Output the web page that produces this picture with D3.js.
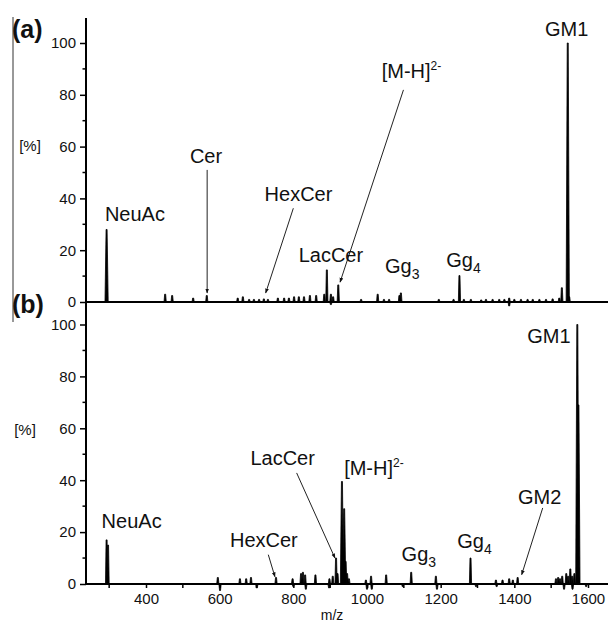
<!DOCTYPE html>
<html>
<head>
<meta charset="utf-8">
<script src="https://cdn.jsdelivr.net/npm/d3@7"></script>
<style>
  body { margin: 0; background: #fff; }
  text { font-family: "Liberation Sans", Arial, sans-serif; fill: #111; }
</style>
</head>
<body>
<div id="chart"></div>
<script>
// panel (a) peaks: m/z and relative intensity [%]
var mzA = [293, 452, 471, 528, 565, 649, 663, 680, 693, 707, 720, 731, 758, 775, 788, 802, 815, 829, 845, 862,
    884, 891, 902, 902, 908, 922, 984, 1029, 1046, 1060, 1088, 1092, 1195, 1235, 1251, 1263, 1282, 1310, 1323,
    1341, 1359, 1373, 1386, 1386, 1400, 1418, 1436, 1450, 1468, 1486, 1504, 1522, 1529, 1545, 1549];
var intA = [28, 3, 2.5, 1.5, 2.5, 1.5, 2, 1, 1, 1, 1.2, 1, 1.5, 1.5, 1.5, 2, 2, 2, 2.5, 2.5,
    3, 12.4, 3, -1, 2, 6.6, 1, 3, 1, 1, 2.5, 3.5, 1, 1, 10.2, 1, 1, 0.8, 1,
    1, 1, 1, 1.5, -1.5, 1, 1, 1, 1, 1, 1, 1.2, 1.5, 5.5, 100, 2];

// panel (b) peaks
var mzB = [293, 297, 595, 601, 655, 672, 685, 701, 753, 798, 800, 821, 826, 832, 834, 860, 897, 898, 907,
    916, 920, 932, 938, 942, 946, 951, 997, 1000, 1011, 1013, 1052, 1097, 1120, 1187, 1190, 1281, 1296,
    1350, 1352, 1368, 1386, 1396, 1409, 1513, 1519, 1524, 1530, 1535, 1541, 1546, 1552, 1557, 1558, 1563,
    1571, 1574, 1595];
var intB = [17, 15, 2.5, -2.5, 2, 2, 2.5, -1.5, 2.5, 2, -1, 4, 4.5, 3.5, -2, 3.5, -1.5, 2, 3,
    10, 4, 39.5, 29, 8.7, 4, 2, 1.5, -2, 3, -2, 3.5, -1, 4.5, 3, -2, 10, -1,
    1.5, -1, 1.5, 2, 1.5, 2.5, 2, 2.5, 2, 3, -2, 4, 3, 5.8, 3, -2, 4,
    100, 69, -1];

var xTicks = [400, 600, 800, 1000, 1200, 1400, 1600];
var xMinor = [300, 500, 700, 900, 1100, 1300, 1500];
var yTicks = [0, 20, 40, 60, 80, 100];
var yMinor = [10, 30, 50, 70, 90];

// annotations: text, anchor m/z and % for the label, optional arrow (from -> to)
var annA = [
    {text: "NeuAc", mz: 370, v: 31.4},
    {text: "Cer", mz: 563, v: 53.7, arrow: [566, 51, 566, 3.5]},
    {text: "HexCer", mz: 814, v: 39, arrow: [800, 36.2, 725, 3.5]},
    {text: "LacCer", mz: 902, v: 15.6},
    {text: "[M-H]", sup: "2-", mz: 1040, v: 86.6, anchor: "start", arrow: [1099, 81.9, 927, 7.7]},
    {text: "Gg", sub: "3", mz: 1049, v: 11.1, anchor: "start"},
    {text: "Gg", sub: "4", mz: 1215, v: 13.6, anchor: "start"},
    {text: "GM1", mz: 1542, v: 102.7}
];
var annB = [
    {text: "NeuAc", mz: 361, v: 21.6},
    {text: "HexCer", mz: 720, v: 14.4, arrow: [732, 11.3, 750, 2.8]},
    {text: "LacCer", mz: 771, v: 46, arrow: [809, 42.8, 913, 10]},
    {text: "[M-H]", sup: "2-", mz: 938, v: 42.1, anchor: "start"},
    {text: "Gg", sub: "3", mz: 1094, v: 9, anchor: "start"},
    {text: "Gg", sub: "4", mz: 1245, v: 13.9, anchor: "start"},
    {text: "GM2", mz: 1469, v: 30.9, arrow: [1477, 29.3, 1420, 3.6]},
    {text: "GM1", mz: 1494, v: 92.8}
];

var width = 608, height = 623;
var axisX = 86;

var x = d3.scaleLinear().domain([400, 1600]).range([146, 588]);
var yA = d3.scaleLinear().domain([0, 100]).range([302, 43]);
var yB = d3.scaleLinear().domain([0, 100]).range([584, 324.5]);

var svg = d3.select("#chart")
    .append("svg")
    .attr("width", width)
    .attr("height", height);

svg.append("defs").append("marker")
    .attr("id", "head")
    .attr("viewBox", "0 0 8 8")
    .attr("refX", 7)
    .attr("refY", 4)
    .attr("markerWidth", 5)
    .attr("markerHeight", 5)
    .attr("orient", "auto")
    .append("path")
    .attr("d", "M0,1 L8,4 L0,7 Z")
    .attr("fill", "#111");

// thin bracket line at the far left
svg.append("line")
    .attr("x1", 13).attr("x2", 13)
    .attr("y1", 17).attr("y2", 322)
    .attr("stroke", "#333").attr("stroke-width", 1);

function panel(y, top, mz, vals, ann, pctPos) {
    var g = svg.append("g");

    // peaks as narrow spikes
    var peaks = mz.map(function (d, i) { return {mz: d, v: vals[i]}; });
    g.selectAll(".peak")
        .data(peaks)
        .enter()
        .append("path")
        .attr("class", "peak")
        .attr("d", function (d) {
            var px = x(d.mz), y0 = y(0), y1 = y(d.v);
            var w = Math.abs(d.v) > 20 ? 1.6 : 1.1;
            return "M" + (px - w) + "," + y0 + "L" + (px - 0.5) + "," + y1 +
                "L" + (px + 0.5) + "," + y1 + "L" + (px + w) + "," + y0 + "Z";
        })
        .attr("fill", "#000")
        .attr("stroke", "#000")
        .attr("stroke-width", 0.8);

    // baseline
    g.append("line")
        .attr("x1", axisX).attr("x2", width)
        .attr("y1", y(0)).attr("y2", y(0))
        .attr("stroke", "#000").attr("stroke-width", 2);

    // y axis
    g.append("line")
        .attr("x1", axisX).attr("x2", axisX)
        .attr("y1", top).attr("y2", y(0))
        .attr("stroke", "#000").attr("stroke-width", 2);

    var ax = g.append("g")
        .attr("transform", "translate(" + axisX + ",0)")
        .call(d3.axisLeft(y).tickValues(yTicks).tickSize(6).tickPadding(4).tickFormat(d3.format("d")));
    ax.select(".domain").remove();
    ax.selectAll(".tick line").attr("stroke", "#000").attr("stroke-width", 1.5);
    ax.selectAll(".tick text")
        .style("font-family", "'Liberation Sans', Arial, sans-serif")
        .style("font-size", "15px")
        .attr("fill", "#111");

    g.selectAll(".minor")
        .data(yMinor)
        .enter()
        .append("line")
        .attr("x1", axisX - 3.5).attr("x2", axisX)
        .attr("y1", function (d) { return y(d); })
        .attr("y2", function (d) { return y(d); })
        .attr("stroke", "#000").attr("stroke-width", 1.5);

    g.append("text")
        .attr("x", pctPos[0])
        .attr("y", pctPos[1])
        .attr("text-anchor", "middle")
        .attr("dy", "0.35em")
        .style("font-size", "15px")
        .text("[%]");

    // annotation arrows
    g.selectAll(".arrow")
        .data(ann.filter(function (d) { return d.arrow; }))
        .enter()
        .append("line")
        .attr("class", "arrow")
        .attr("x1", function (d) { return x(d.arrow[0]); })
        .attr("y1", function (d) { return y(d.arrow[1]); })
        .attr("x2", function (d) { return x(d.arrow[2]); })
        .attr("y2", function (d) { return y(d.arrow[3]); })
        .attr("stroke", "#222")
        .attr("stroke-width", 1)
        .attr("marker-end", "url(#head)");

    // annotation labels
    var lab = g.selectAll(".lab")
        .data(ann)
        .enter()
        .append("text")
        .attr("class", "lab")
        .attr("x", function (d) { return x(d.mz); })
        .attr("y", function (d) { return y(d.v); })
        .attr("text-anchor", function (d) { return d.anchor || "middle"; })
        .style("font-size", "20px");
    lab.append("tspan").text(function (d) { return d.text; });
    lab.filter(function (d) { return d.sub; })
        .append("tspan")
        .attr("dy", 6)
        .style("font-size", "14px")
        .text(function (d) { return d.sub; });
    lab.filter(function (d) { return d.sup; })
        .append("tspan")
        .attr("dy", -8)
        .style("font-size", "12px")
        .text(function (d) { return d.sup; });
}

panel(yA, 18, mzA, intA, annA, [30, 146]);
panel(yB, 302, mzB, intB, annB, [25, 430]);

// x axis at the bottom of panel (b)
var xAxis = svg.append("g")
    .attr("transform", "translate(0," + yB(0) + ")")
    .call(d3.axisBottom(x).tickValues(xTicks).tickSize(4).tickPadding(5).tickFormat(d3.format("d")));
xAxis.select(".domain").remove();
xAxis.selectAll(".tick line").attr("stroke", "#000").attr("stroke-width", 1.5);
xAxis.selectAll(".tick text")
    .style("font-family", "'Liberation Sans', Arial, sans-serif")
    .style("font-size", "15px")
    .attr("fill", "#111");

svg.selectAll(".xminor")
    .data(xMinor)
    .enter()
    .append("line")
    .attr("x1", function (d) { return x(d); })
    .attr("x2", function (d) { return x(d); })
    .attr("y1", yB(0)).attr("y2", yB(0) + 4)
    .attr("stroke", "#000").attr("stroke-width", 1.5);

svg.append("text")
    .attr("x", 332)
    .attr("y", 620)
    .attr("text-anchor", "middle")
    .style("font-size", "14px")
    .text("m/z");

// panel letters
svg.append("text")
    .attr("x", 12).attr("y", 38)
    .style("font-size", "25px").style("font-weight", "bold")
    .text("(a)");
svg.append("text")
    .attr("x", 12).attr("y", 313)
    .style("font-size", "25px").style("font-weight", "bold")
    .text("(b)");
</script>
</body>
</html>
